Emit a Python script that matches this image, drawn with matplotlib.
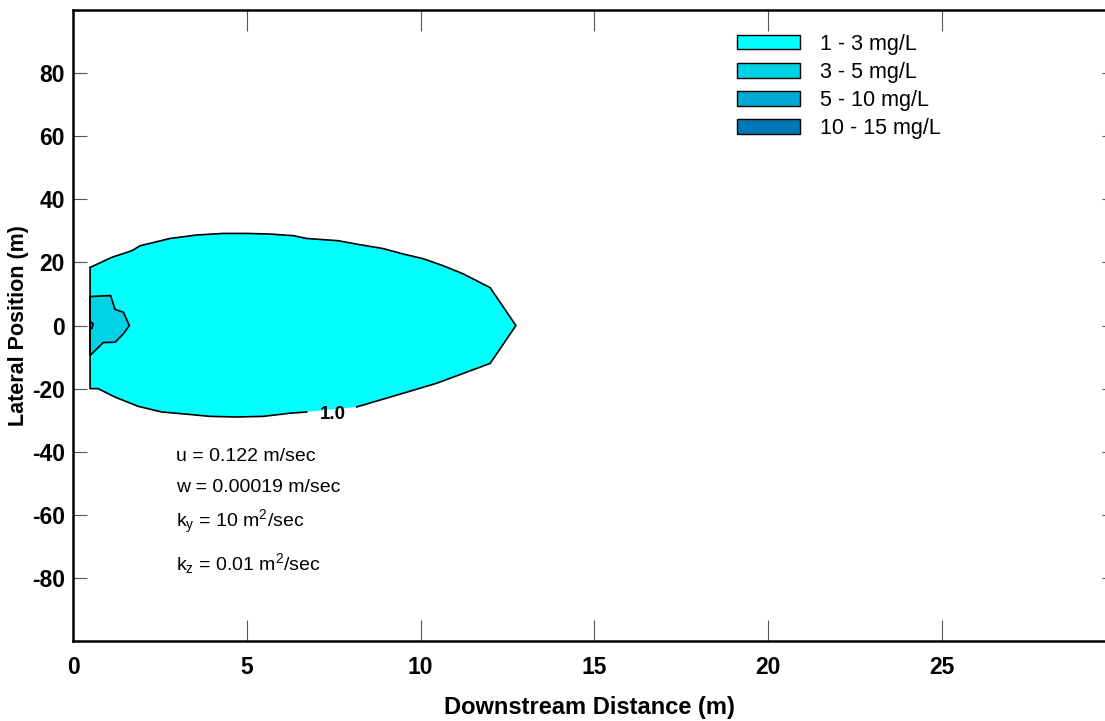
import numpy as np
import matplotlib
matplotlib.use("Agg")
from matplotlib import pyplot as plt
from matplotlib.patches import Patch

plt.rcParams['font.family'] = ['Liberation Sans', 'DejaVu Sans']
plt.rcParams['mathtext.fontset'] = 'custom'
plt.rcParams['mathtext.rm'] = 'Liberation Sans'
plt.rcParams['mathtext.it'] = 'Liberation Sans'
plt.rcParams['mathtext.default'] = 'regular'
plt.rcParams['axes.unicode_minus'] = False

# 1.0 mg/L contour (downstream m, lateral m)
outer_x = [0.49, 1.11, 1.69, 1.93, 2.79, 3.56, 4.32, 5.0, 5.67, 6.33, 6.72, 7.62,
           8.16, 8.92, 9.49, 10.07, 10.64, 11.22, 12.0, 12.74,
           12.0, 11.61, 10.46, 9.12, 8.16, 6.72, 6.24, 5.47, 4.71, 3.94, 3.27,
           2.55, 1.87, 1.21, 0.72, 0.49]
outer_y = [18.4, 21.6, 23.7, 25.3, 27.6, 28.7, 29.2, 29.2, 29.0, 28.5, 27.6, 26.9,
           25.8, 24.4, 22.7, 21.2, 19.0, 16.4, 12.0, 0.0,
           -12.0, -13.6, -18.3, -22.7, -25.8, -27.4, -27.8, -28.8, -29.0, -28.8, -28.1,
           -27.4, -25.6, -22.7, -20.0, -20.0]

# 3.0 mg/L contour
mid_x = [0.49, 1.08, 1.21, 1.45, 1.62, 1.45, 1.21, 0.87, 0.49]
mid_y = [9.2, 9.5, 5.1, 4.2, 0.0, -2.6, -5.3, -5.4, -9.5]

# 5.0 mg/L contour (tiny, at the source)
inner_x = [0.49, 0.58, 0.54, 0.49]
inner_y = [1.3, 0.5, -0.9, -1.0]

levels = ['1 - 3 mg/L', '3 - 5 mg/L', '5 - 10 mg/L', '10 - 15 mg/L']
colors = ['#00FFFF', '#00D2E6', '#00AAD2', '#0078B8']

params = ['u = 0.122 m/sec', 'w = 0.00019 m/sec',
          r'k$_y$ = 10 m$^2$/sec', r'k$_z$ = 0.01 m$^2$/sec']
param_y = [-41.6, -51.3, -62.2, -75.3]

fig = plt.figure(figsize=(11.05, 7.21), dpi=100)
ax = fig.add_axes([0.0661, 0.111, 0.934, 0.875])

ax.fill(outer_x, outer_y, color=colors[0], lw=0)
ax.fill(mid_x, mid_y, facecolor=colors[1], edgecolor='black', lw=1.2)
ax.fill(inner_x, inner_y, facecolor=colors[2], edgecolor='black', lw=1.2)

# outline of 1.0 contour, with a gap where its label sits
gap = outer_x.index(6.72, 15)
ax.plot(outer_x[:gap], outer_y[:gap], color='black', lw=1.2)
ax.plot(outer_x[gap:] + [outer_x[0]], outer_y[gap:] + [outer_y[0]], color='black', lw=1.2)
ax.text(7.48, -28.2, '1.0', ha='center', va='center', fontsize=13.5, fontweight='bold')

for t, yy in zip(params, param_y):
    ax.text(2.96, yy, t, ha='left', va='center', fontsize=14)

ax.set_xlim(0, 29.69)
ax.set_ylim(-100, 100)
ax.set_xticks([0, 5, 10, 15, 20, 25])
ax.set_yticks([-80, -60, -40, -20, 0, 20, 40, 60, 80])
ax.tick_params(axis='x', direction='in', length=15, width=0.8, color='#555555',
               top=True, labelsize=16.5, pad=11)
ax.tick_params(axis='y', direction='in', length=10, width=0.8, color='#555555',
               labelsize=16.5, pad=6)
ax.tick_params(axis='y', which='major', right=True)
for t in ax.yaxis.get_major_ticks():
    t.tick2line.set_markersize(2)
for lab in ax.get_xticklabels() + ax.get_yticklabels():
    lab.set_fontweight('bold')
for s in ['left', 'bottom', 'top']:
    ax.spines[s].set_linewidth(1.8)
ax.spines['right'].set_visible(False)

ax.set_xlabel('Downstream Distance (m)', fontsize=17, fontweight='bold', labelpad=12)
ax.set_ylabel('Lateral Position (m)', fontsize=15.5, fontweight='bold', labelpad=2)

handles = [Patch(facecolor=c, edgecolor='black', lw=1) for c in colors]
fig.legend(handles, levels, loc='upper left', bbox_to_anchor=(0.6575, 0.968),
           frameon=False, fontsize=15.5, handlelength=2.9, handleheight=0.65,
           handletextpad=0.95, labelspacing=0.33, borderpad=0)

fig.savefig('out.png', dpi=100)
